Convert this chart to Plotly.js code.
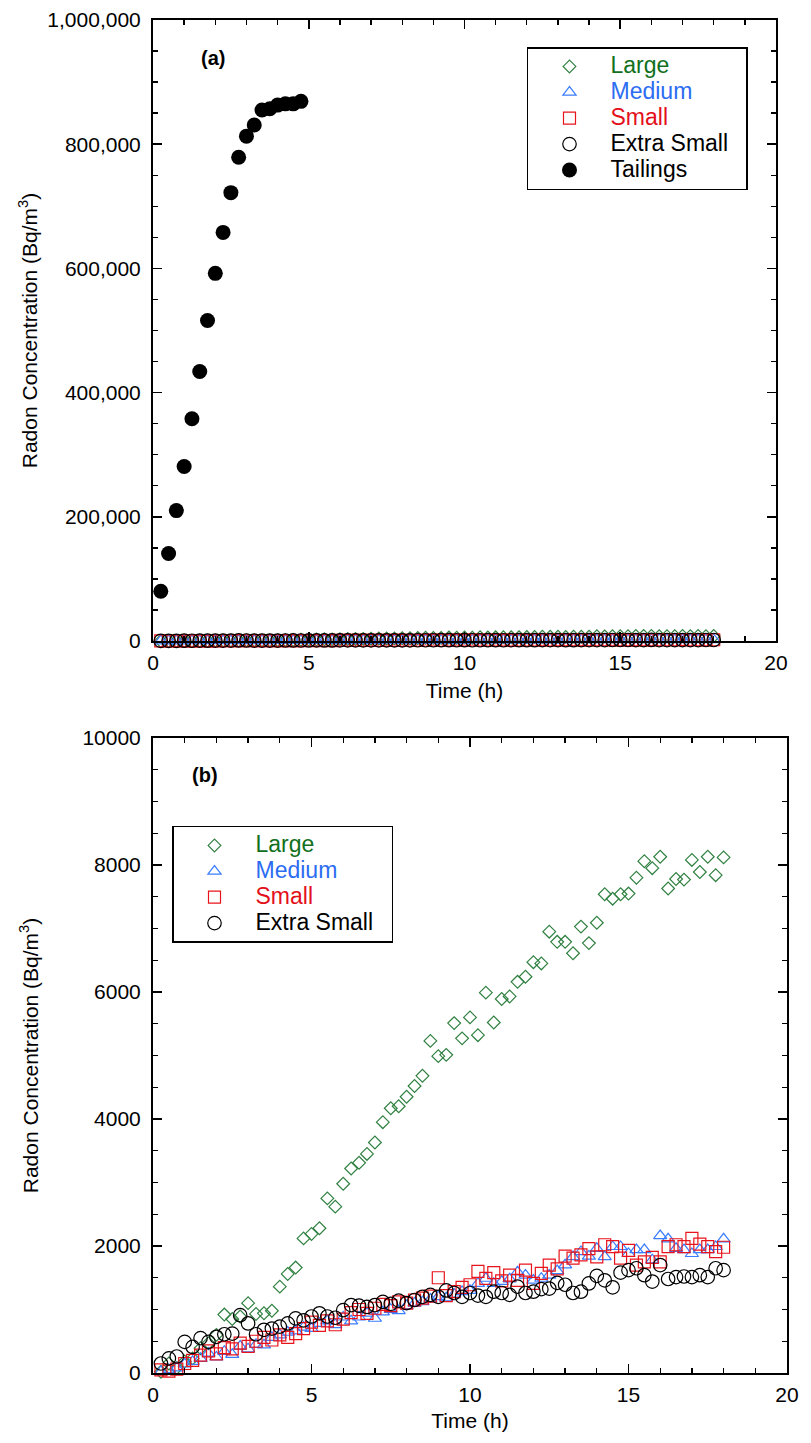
<!DOCTYPE html>
<html>
<head>
<meta charset="utf-8">
<script src="https://cdn.plot.ly/plotly-3.0.1.min.js"></script>
<style>html,body{margin:0;padding:0;background:#fff;}#chart{width:811px;height:1443px;}</style>
</head>
<body>
<div id="chart"></div>
<script>
// ---- data ----
const time = [0.25,0.5,0.75,1,1.25,1.5,1.75,2,2.25,2.5,2.75,3,3.25,3.5,3.75,4,4.25,4.5,
  4.75,5,5.25,5.5,5.75,6,6.25,6.5,6.75,7,7.25,7.5,7.75,8,8.25,8.5,8.75,9,
  9.25,9.5,9.75,10,10.25,10.5,10.75,11,11.25,11.5,11.75,12,12.25,12.5,12.75,13,13.25,13.5,
  13.75,14,14.25,14.5,14.75,15,15.25,15.5,15.75,16,16.25,16.5,16.75,17,17.25,17.5,17.75,18];

const large = [20,150,80,180,230,390,470,600,920,850,890,1100,930,940,980,1360,1560,1660,
  2120,2190,2280,2750,2620,2980,3220,3310,3450,3630,3950,4170,4200,4350,4520,4680,5230,4990,
  5010,5510,5270,5600,5320,5990,5520,5890,5930,6160,6240,6470,6450,6950,6790,6790,6610,7030,
  6770,7090,7540,7470,7540,7550,7800,8060,7950,8130,7630,7780,7770,8080,7890,8130,7840,8120];

const medium = [20,50,80,140,180,230,310,250,340,290,420,380,450,440,560,600,640,660,
  720,700,780,820,760,880,820,880,940,860,960,1000,980,1060,1100,1120,1160,1200,
  1180,1240,1280,1300,1410,1490,1410,1440,1480,1590,1540,1460,1490,1540,1610,1700,1830,1910,
  1840,1960,1830,1990,1990,1880,1940,1940,1780,2160,2110,1960,1940,1880,1940,1940,1990,2110];

const small = [50,30,60,150,200,280,350,300,400,380,470,420,500,560,520,600,560,620,
  700,800,750,820,760,850,950,1000,940,1020,1080,1060,1120,1100,1150,1180,1210,1500,
  1220,1280,1350,1390,1600,1490,1580,1450,1540,1460,1620,1410,1570,1700,1640,1840,1810,1860,
  1960,1830,2020,1990,1810,1930,1700,1750,1820,1750,1990,2020,1990,2120,2030,1990,1910,1980];

const extraSmall = [150,230,260,490,410,550,490,570,610,620,910,780,610,680,700,730,780,860,
  830,890,940,890,870,990,1070,1060,1040,1070,1120,1090,1140,1100,1150,1200,1230,1200,
  1300,1260,1200,1260,1220,1200,1280,1260,1230,1360,1260,1280,1320,1330,1420,1390,1260,1280,
  1410,1530,1460,1350,1580,1620,1650,1540,1440,1700,1480,1510,1520,1510,1540,1510,1650,1620];

const tailTime = [0.25,0.5,0.75,1,1.25,1.5,1.75,2,2.25,2.5,2.75,3,3.25,3.5,3.75,4,4.25,4.5,4.75];
const tailings = [80000,141000,210000,281000,358000,434000,516000,592000,658000,722000,
  779000,813000,831000,855000,857000,863000,865000,865000,869000];

const seriesNames = ['Large','Medium','Small','Extra Small','Tailings'];
const xTitle = 'Time (h)';
const yTitle = 'Radon Concentration (Bq/m<sup>3</sup>)';

// ---- styles ----
const FONT = 'Liberation Sans, Arial, Helvetica, sans-serif';
const GREEN = '#2f8040', GREEN_T = '#12701c';
const BLUE = '#3a7dff', BLUE_T = '#2b6cf2';
const RED = '#e8141c', RED_T = '#e3101a';

const styles = [
  {sym:'diamond-open', size:9.8, color:GREEN, text:GREEN_T},
  {sym:'triangle-up-open', size:11.5, color:BLUE, text:BLUE_T},
  {sym:'square-open', size:12, color:RED, text:RED_T},
  {sym:'circle-open', size:13.5, color:'#000', text:'#000'}
];
const smallSeries = [large, medium, small, extraSmall];

function legendName(label, color) {
  return '<span style="color:' + color + ';font-size:23px">' + label + '&nbsp;&nbsp;</span>';
}

const traces = [];
smallSeries.forEach((ys, i) => {
  const s = styles[i];
  traces.push({
    type:'scatter', mode:'markers', x:time, y:ys, xaxis:'x', yaxis:'y',
    name:legendName(seriesNames[i], s.text), legend:'legend', cliponaxis:false,
    marker:{symbol:s.sym, size:s.size, color:s.color, line:{color:s.color, width:1.2}}
  });
});
traces.push({
  type:'scatter', mode:'markers', x:tailTime, y:tailings, xaxis:'x', yaxis:'y',
  name:legendName(seriesNames[4], '#000'), legend:'legend', cliponaxis:false,
  marker:{symbol:'circle', size:15, color:'#000', line:{color:'#000', width:0}}
});
smallSeries.forEach((ys, i) => {
  const s = styles[i];
  traces.push({
    type:'scatter', mode:'markers', x:time, y:ys, xaxis:'x2', yaxis:'y2',
    name:legendName(seriesNames[i], s.text), legend:'legend2', cliponaxis:false,
    marker:{symbol:s.sym, size:s.size, color:s.color, line:{color:s.color, width:1.2}}
  });
});

function axisBase(extra) {
  return Object.assign({
    showline:true, linecolor:'#000', linewidth:2, mirror:'allticks',
    ticks:'inside', ticklen:9, tickwidth:1.6, tickcolor:'#000',
    showgrid:false, zeroline:false, automargin:false,
    tickfont:{family:FONT, size:21, color:'#000'}
  }, extra);
}
const minorX = {dtick:1, ticklen:5, tickwidth:1.4, tickcolor:'#000', ticks:'inside'};

const layout = {
  width:811, height:1443,
  margin:{l:153, r:24, t:20, b:70},
  paper_bgcolor:'#fff', plot_bgcolor:'#fff',
  font:{family:FONT, size:21, color:'#000'},
  xaxis: axisBase({domain:[0, 0.98265], anchor:'y', range:[0,20], dtick:5, tick0:0,
    ticklabelstandoff:2, minor:minorX,
    title:{text:xTitle, font:{family:FONT, size:21}, standoff:10}}),
  yaxis: axisBase({domain:[0.54102, 1], anchor:'x', range:[0,1000000], dtick:200000, tick0:0,
    tickformat:',d', ticklabelstandoff:6,
    minor:{dtick:50000, ticklen:5, tickwidth:1.4, tickcolor:'#000', ticks:'inside'},
    title:{text:yTitle, font:{family:FONT, size:21}, standoff:4}}),
  xaxis2: axisBase({domain:[0, 1], anchor:'y2', range:[0,20], dtick:5, tick0:0,
    ticklabelstandoff:2, minor:minorX,
    title:{text:xTitle, font:{family:FONT, size:21}, standoff:8}}),
  yaxis2: axisBase({domain:[0, 0.46933], anchor:'x2', range:[0,10000], dtick:2000, tick0:0,
    tickformat:'d', ticklabelstandoff:6,
    minor:{dtick:500, ticklen:5, tickwidth:1.4, tickcolor:'#000', ticks:'inside'},
    title:{text:yTitle, font:{family:FONT, size:21}, standoff:38}}),
  legend:{x:0.5899, y:0.98004, xref:'paper', yref:'paper', xanchor:'left', yanchor:'top',
    bgcolor:'#fff', bordercolor:'#000', borderwidth:1.5, itemwidth:72,
    font:{family:FONT, size:17.6}, traceorder:'normal'},
  legend2:{x:0.02997, y:0.40429, xref:'paper', yref:'paper', xanchor:'left', yanchor:'top',
    bgcolor:'#fff', bordercolor:'#000', borderwidth:1.5, itemwidth:72,
    font:{family:FONT, size:17.6}, traceorder:'normal'},
  annotations:[
    {text:'<b>(a)</b>', xref:'paper', yref:'paper', x:0.0946, y:0.97191, xanchor:'center', yanchor:'middle',
     showarrow:false, font:{family:FONT, size:20, color:'#000'}},
    {text:'<b>(b)</b>', xref:'paper', yref:'paper', x:0.0820, y:0.44198, xanchor:'center', yanchor:'middle',
     showarrow:false, font:{family:FONT, size:20, color:'#000'}}
  ],
  showlegend:true
};

Plotly.newPlot('chart', traces, layout, {displayModeBar:false, staticPlot:true});
</script>
</body>
</html>
